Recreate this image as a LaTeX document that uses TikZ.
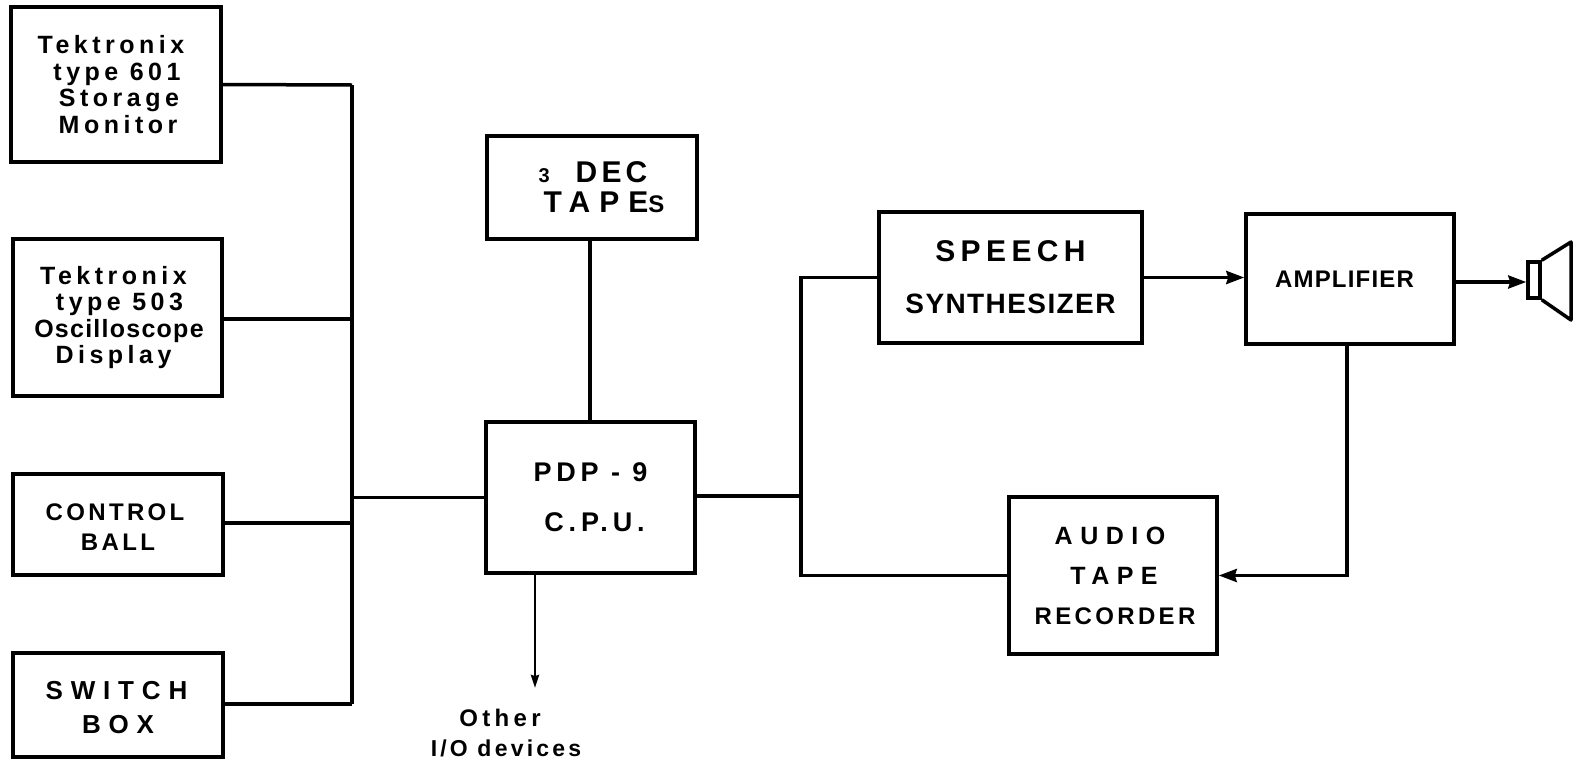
\documentclass[tikz,border=0pt]{standalone}
\usepackage{fontspec}
\usetikzlibrary{arrows.meta}
\setmainfont{Liberation Sans}
\newfontface\labelfont{Liberation Sans Bold}[LetterSpace=18]
\newfontface\midfont{Liberation Sans Bold}[LetterSpace=14]
\newfontface\widefont{Liberation Sans Bold}[LetterSpace=30]
\newfontface\tightfont{Liberation Sans Bold}[LetterSpace=5]
\tikzset{
  unitbox/.style={draw,line width=3.5pt,inner sep=0pt,align=center,font=\labelfont\fontsize{25}{26.5}\selectfont},
  bus/.style={line width=3.5pt},
}
\begin{document}
\begin{tikzpicture}[>={Stealth[length=18pt,width=13pt,inset=2pt]},x=1pt,y=-1pt]
  \useasboundingbox (0,0) rectangle (1574,764);
  % Left column of units
  \node[unitbox,minimum width=210pt,minimum height=155pt] (monitor) at (116,84.5) {\hspace*{-10pt}Tektronix\\\hspace*{2pt}type 601\\\hspace*{6pt}Storage\\\hspace*{4pt}Monitor};
  \node[unitbox,minimum width=209pt,minimum height=157pt] (scope) at (117.5,317.5) {\hspace*{-8pt}Tektronix\\\hspace*{4pt}type 503\\\hspace*{3pt}{\tightfont Oscilloscope}\\\hspace*{-8pt}Display};
  \node[unitbox,minimum width=210pt,minimum height=101pt,font=\midfont\fontsize{24}{30}\selectfont] (ball) at (118,524.5) {\rule{0pt}{22pt}\hspace*{-6pt}CONTROL\\BALL};
  \node[unitbox,minimum width=210pt,minimum height=104pt,font=\widefont\fontsize{26}{34}\selectfont] (switch) at (118,705) {\rule{0pt}{23pt}\hspace*{-3pt}SWITCH\\BOX};
  % Centre column
  \node[unitbox,minimum width=210pt,minimum height=103pt,font=\midfont\fontsize{30}{30}\selectfont] (tapes) at (592,187.5) {\hspace*{2pt}{\fontsize{20}{30}\selectfont 3}\hspace*{26pt}DEC\\\hspace*{24pt}{\widefont TAPE{\fontsize{24}{30}\selectfont S}}};
  \node[unitbox,minimum width=209pt,minimum height=151pt,font=\labelfont\fontsize{27}{50}\selectfont] (cpu) at (590.5,497.5) {PDP - 9\\\hspace*{8pt}{\labelfont C.P.U.}};
  \node[font=\labelfont\fontsize{24}{30}\selectfont,align=center,inner sep=0pt] (other) at (506,733) {\hspace*{-12pt}Other\\{\midfont\fontsize{23}{30}\selectfont I/O devices}};
  % Right side
  \node[unitbox,minimum width=263pt,minimum height=131pt,font=\labelfont\fontsize{30}{52}\selectfont] (speech) at (1010.5,277.5) {SPEECH\\{\tightfont\fontsize{28}{52}\selectfont SYNTHESIZER}};
  \node[unitbox,minimum width=208pt,minimum height=130pt,font=\tightfont\fontsize{24}{26}\selectfont] (amp) at (1350,279) {\hspace*{-11pt}AMPLIFIER};
  \node[unitbox,minimum width=208pt,minimum height=157pt,font=\widefont\fontsize{25}{40}\selectfont] (audio) at (1113,575.5) {\hspace*{-6pt}AUDIO\\\hspace*{2pt}TAPE\\\hspace*{4pt}{\midfont\fontsize{24}{40}\selectfont RECORDER}};
  % Loudspeaker
  \node[draw,line width=3.5pt,inner sep=0pt,minimum width=12pt,minimum height=36pt] (coil) at (1534,280) {};
  \draw[line width=3.5pt,line join=round] (coil.north east) -- (1571,242) -- (1571,320) -- (coil.south east);
  % Bus on the left
  \coordinate (bustop) at (352,85);
  \coordinate (busbot) at (352,704);
  \draw[bus] (bustop) -- (busbot);
  \draw[bus] (monitor.east) -- (bustop);
  \draw[bus] ([yshift=-1.5pt]scope.east) -- ([yshift=-1.5pt]scope.east -| bustop);
  \draw[bus] ([yshift=1.5pt]ball.east) -- ([yshift=1.5pt]ball.east -| bustop);
  \draw[bus] ([yshift=1pt]switch.east) -- (busbot);
  \draw[bus] (cpu.west) -- (cpu.west -| bustop);
  % Bus on the right
  \coordinate (split) at (801,496);
  \draw[bus] (cpu.east |- split) -- (split);
  \draw[bus] (speech.west) -| (split);
  \draw[bus] (audio.west) -| (split);
  \draw[bus] (tapes.south -| 590,0) -- (cpu.north -| 590,0);
  % Arrows
  \draw[bus,->] (speech.east) -- (speech.east -| amp.west);
  \draw[bus,->] (amp.east |- 0,282) -- (coil.west |- 0,282);
  \draw[bus,->] (amp.south -| 1347,0) |- (audio.east);
  \draw[line width=2.5pt,->,>={Stealth[length=13pt,width=8pt,inset=1pt]}] (cpu.south -| 535,0) -- (535,688);
\end{tikzpicture}
\end{document}
